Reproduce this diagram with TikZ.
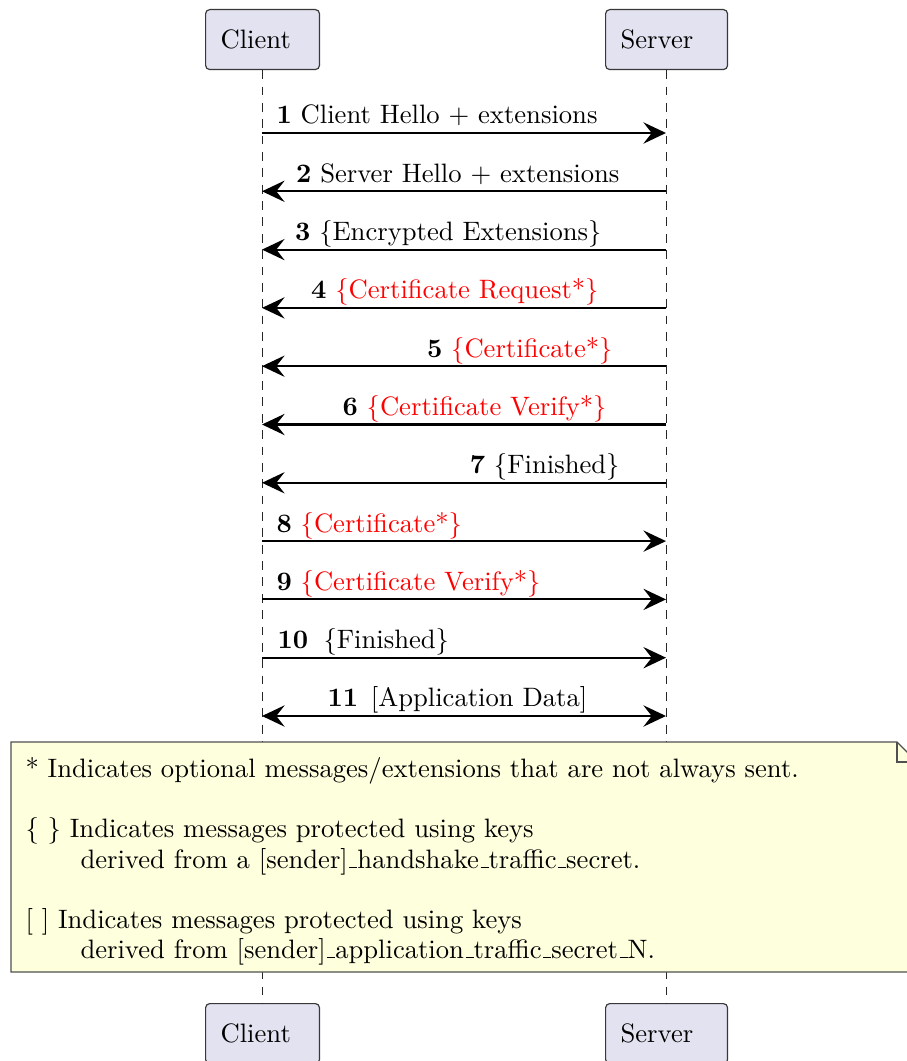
\documentclass[tikz,border=0pt]{standalone}
\usetikzlibrary{arrows.meta}
\definecolor{partfill}{RGB}{226,226,240}
\definecolor{partline}{RGB}{56,56,56}
\definecolor{notefill}{RGB}{254,255,221}
\definecolor{noteline}{RGB}{80,80,80}
\definecolor{optred}{RGB}{255,0,0}
% short low bar between identifier parts
\newcommand{\usbar}{\leavevmode\kern.06em\vbox{\hrule width.3em}}
\begin{document}
\begin{tikzpicture}[x=0.385pt,y=-0.385pt,
  every node/.append style={font=\fontsize{10.25pt}{12.3pt}\selectfont},
  participant/.style={draw=partline, fill=partfill, rounded corners=1.6pt,
    line width=0.45pt, align=left, inner xsep=5.78pt, inner ysep=0pt,
    minimum height=23.1pt, anchor=north west},
  lifeline/.style={draw=black!85, line width=0.45pt, dash pattern=on 3.4pt off 2.9pt},
  tip/.tip={Stealth[length=8.7pt,width=8.2pt,inset=3.2pt]},
  msg/.style={line width=0.8pt, -tip},
  bimsg/.style={line width=0.8pt, tip-tip},
  lblL/.style={anchor=base west, inner sep=0pt},
  lblR/.style={anchor=base east, inner sep=0pt},
  notebox/.style={draw=noteline, fill=notefill, line width=0.5pt, line join=miter},
  notetext/.style={anchor=base west, inner sep=0pt}]
\useasboundingbox (0,0) rectangle (906,1061);

% participants, top and bottom
\node[participant, text width=32.3pt] (ctop) at (205,9) {Client};
\node[participant, text width=35.4pt] (stop) at (605,9) {Server};
\node[participant, text width=32.3pt] (cbot) at (205,1003) {Client};
\node[participant, text width=35.4pt] (sbot) at (605,1003) {Server};

% lifelines
\draw[lifeline] (ctop) -- (cbot);
\draw[lifeline] (stop) -- (sbot);

% message anchors on the lifelines
\foreach \i in {1,...,11}{
  \pgfmathsetmacro{\yy}{133+(\i-1)*58.3}
  \coordinate (c\i) at (262,\yy);
  \coordinate (s\i) at (666,\yy);
}

% handshake messages
\draw[msg] (c1) -- (s1);
\node[lblL] (m1) at ([yshift=3.5pt]c1 -| 276,0) {\textbf{1} Client Hello + extensions};
\draw[msg] (s2) -- (c2);
\node[lblR] (m2) at ([yshift=3.5pt]s2 -| 620,0) {\textbf{2} Server Hello + extensions};
\draw[msg] (s3) -- (c3);
\node[lblR] (m3) at ([yshift=3.5pt]s3 -| 602,0) {\textbf{3} \{Encrypted Extensions\}};
\draw[msg] (s4) -- (c4);
\node[lblR] (m4) at ([yshift=3.5pt]s4 -| 599,0) {\textbf{4} \textcolor{optred}{\{Certificate Request*\}}};
\draw[msg] (s5) -- (c5);
\node[lblR] (m5) at ([yshift=3.5pt]s5 -| 613,0) {\textbf{5} \textcolor{optred}{\{Certificate*\}}};
\draw[msg] (s6) -- (c6);
\node[lblR] (m6) at ([yshift=3.5pt]s6 -| 607,0) {\textbf{6} \textcolor{optred}{\{Certificate Verify*\}}};
\draw[msg] (s7) -- (c7);
\node[lblR] (m7) at ([yshift=3.5pt]s7 -| 620,0) {\textbf{7} \{Finished\}};
\draw[msg] (c8) -- (s8);
\node[lblL] (m8) at ([yshift=3.5pt]c8 -| 276,0) {\textbf{8} \textcolor{optred}{\{Certificate*\}}};
\draw[msg] (c9) -- (s9);
\node[lblL] (m9) at ([yshift=3.5pt]c9 -| 276,0) {\textbf{9} \textcolor{optred}{\{Certificate Verify*\}}};
\draw[msg] (c10) -- (s10);
\node[lblL] (m10) at ([yshift=3.5pt]c10 -| 277,0) {\textbf{10}\hspace{2.5pt} \{Finished\}};
\draw[bimsg] (c11) -- (s11);
\node[lblL] (m11) at ([yshift=3.5pt]c11 -| 327,0) {\textbf{11}\hspace{1.5pt} [Application Data]};

% legend note with folded corner
\draw[notebox] (11,742) -- (897,742) -- (917,762) -- (917,972) -- (11,972) -- cycle;
\draw[notebox, fill=none] (897,742) -- (897,762) -- (917,762);
\node[notetext] (n1) at (25,777) {* Indicates optional messages/extensions that are not always sent.};
\node[notetext] (n2) at (25,837) {\{ \} Indicates messages protected using keys};
\node[notetext] (n3) at (80,868) {derived from a [sender]\usbar handshake\usbar traffic\usbar secret.};
\node[notetext] (n4) at (25,928) {[ ] Indicates messages protected using keys};
\node[notetext] (n5) at (80,958) {derived from [sender]\usbar application\usbar traffic\usbar secret\usbar N.};
\end{tikzpicture}
\end{document}
